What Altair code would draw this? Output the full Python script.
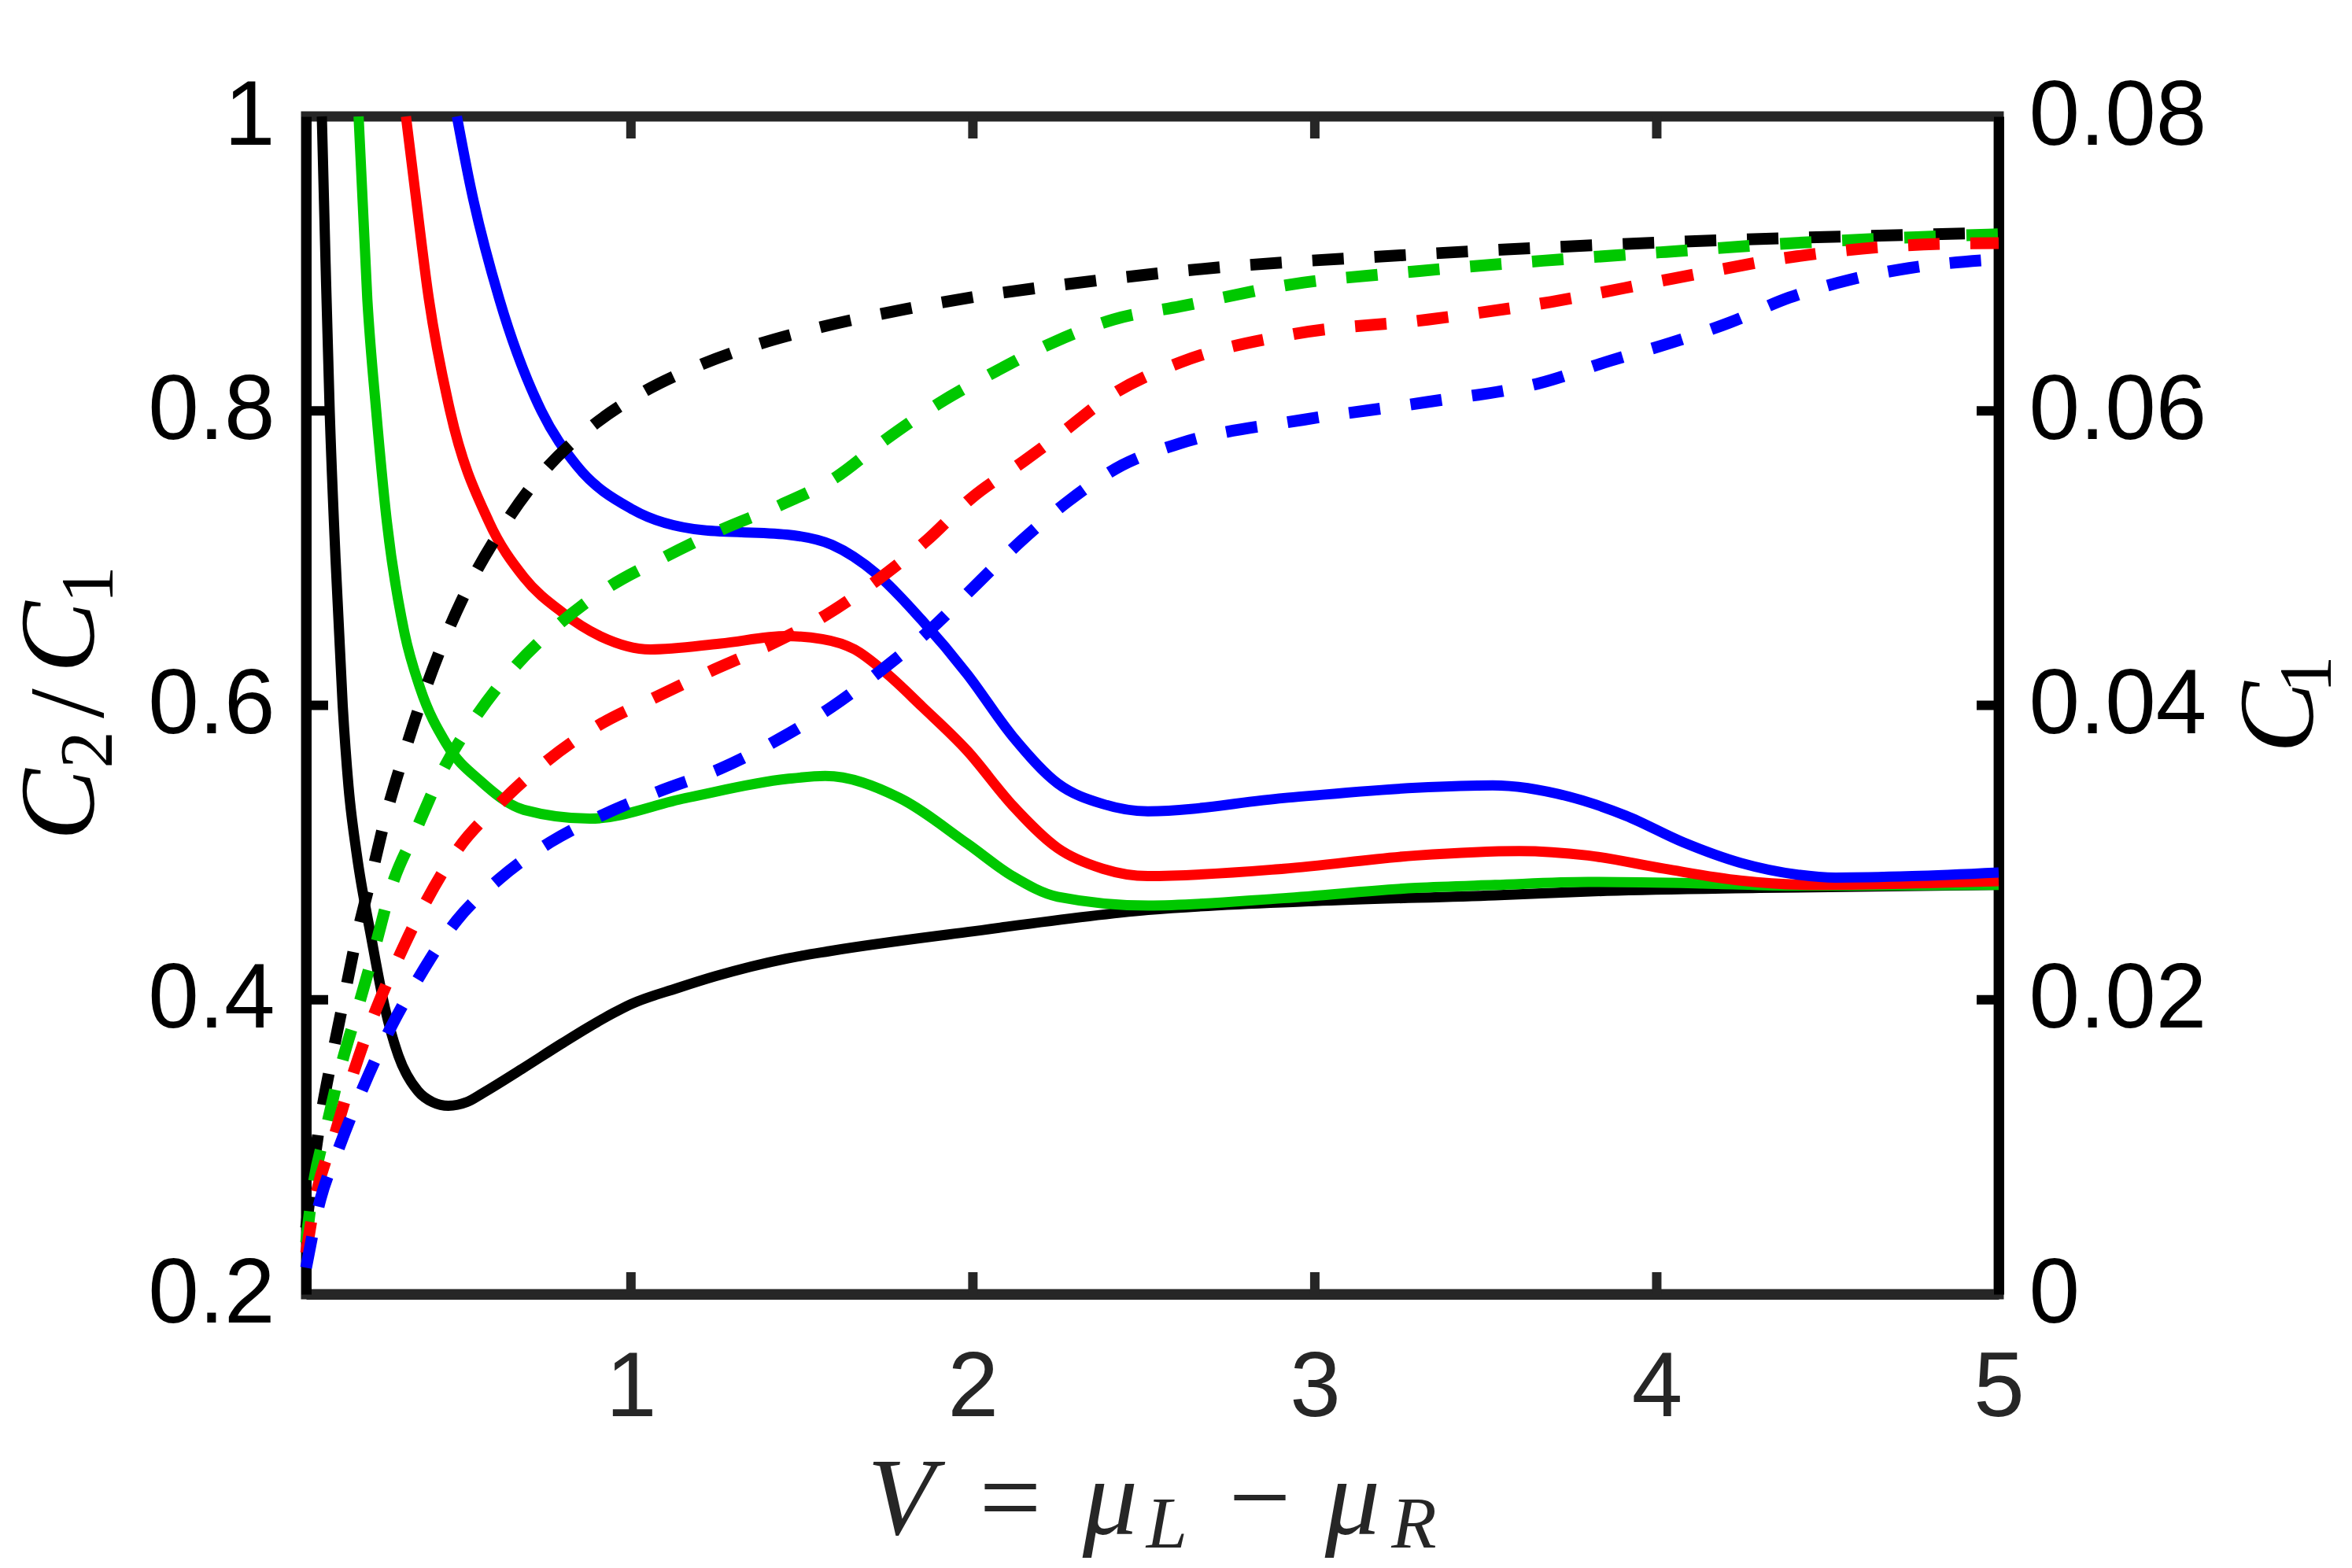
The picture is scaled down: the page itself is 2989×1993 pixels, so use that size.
import altair as alt
import pandas as pd

# ---------------- data ----------------
series_names = ["black", "green", "red", "blue"]
series_colors = ["#000000", "#00c800", "#ff0000", "#0000ff"]

# C2/C1 (left axis), solid lines
black_ratio_x = [0.096, 0.107, 0.119, 0.136, 0.157, 0.174, 0.198, 0.24, 0.28, 0.32, 0.377, 0.42, 0.466,
                 0.52, 0.566, 0.681, 0.796, 0.873, 0.949, 1.0, 1.137, 1.247, 1.456, 1.58, 1.984, 2.512, 3.0,
                 3.527, 3.854, 4.3, 5.0]
black_ratio_y = [1.0, 0.9, 0.8, 0.7, 0.6, 0.545, 0.499, 0.443, 0.395, 0.362, 0.338, 0.3305, 0.328,
                 0.3305, 0.3365, 0.353, 0.370, 0.381, 0.391, 0.397, 0.408, 0.416, 0.428, 0.433, 0.446, 0.461,
                 0.467, 0.471, 0.474, 0.476, 0.478]

green_ratio_x = [0.2035, 0.229, 0.255, 0.286, 0.337, 0.383, 0.46, 0.563, 0.687, 0.88, 1.16, 1.456, 1.568,
                 1.786, 1.984, 2.116, 2.248, 2.513, 2.909, 3.297, 3.527, 3.799, 4.134, 4.41, 5.0]
green_ratio_y = [1.0, 0.876, 0.8, 0.725, 0.65, 0.612, 0.574, 0.548, 0.529, 0.523, 0.537, 0.55, 0.552,
                 0.537, 0.506, 0.484, 0.47, 0.464, 0.469, 0.476, 0.478, 0.48, 0.479, 0.4775, 0.478]

red_ratio_x = [0.342, 0.368, 0.409, 0.471, 0.584, 0.687, 0.80, 0.91, 1.057, 1.262, 1.456, 1.56, 1.654,
               1.746, 1.852, 1.984, 2.116, 2.248, 2.38, 2.512, 2.909, 3.297, 3.598, 3.799, 4.022, 4.245,
               4.468, 5.0]
red_ratio_y = [1.0, 0.951, 0.876, 0.8, 0.725, 0.687, 0.663, 0.647, 0.638, 0.642, 0.647, 0.645, 0.638,
               0.622, 0.599, 0.569, 0.532, 0.503, 0.489, 0.484, 0.489, 0.498, 0.501, 0.498, 0.489, 0.481,
               0.478, 0.4805]

blue_ratio_x = [0.491, 0.532, 0.615, 0.738, 0.841, 1.005, 1.21, 1.456, 1.588, 1.72, 1.85, 1.984, 2.116,
                2.248, 2.38, 2.512, 2.909, 3.297, 3.52, 3.743, 3.91, 4.077, 4.245, 4.412, 4.523, 4.747, 5.0]
blue_ratio_y = [1.0, 0.951, 0.876, 0.8, 0.763, 0.733, 0.719, 0.716, 0.709, 0.689, 0.658, 0.621, 0.579,
                0.547, 0.533, 0.528, 0.537, 0.544, 0.5456, 0.538, 0.525, 0.507, 0.493, 0.485, 0.483, 0.484,
                0.4865]

# C1 (right axis), dashed lines
black_c1_x = [0.05, 0.065, 0.09, 0.125, 0.16, 0.195, 0.24, 0.28, 0.334, 0.39, 0.455, 0.532, 0.625, 0.738,
              0.872, 1.015, 1.18, 1.355, 1.54, 1.8, 2.02, 2.24, 2.607, 3.35, 4.08, 4.81, 5.0]
black_c1_y = [0.0045, 0.0075, 0.0116, 0.0160, 0.0200, 0.0240, 0.0283, 0.0322, 0.0365, 0.0405, 0.0445, 0.0484,
              0.0521, 0.0557, 0.0587, 0.0610, 0.0629, 0.0644, 0.0656, 0.0669, 0.0678, 0.0685, 0.0695, 0.0707,
              0.0715, 0.0720, 0.0721]

green_c1_x = [0.05, 0.07, 0.109, 0.151, 0.201, 0.252, 0.296, 0.373, 0.45, 0.543, 0.656, 0.789, 0.933, 1.093,
              1.262, 1.437, 1.6, 1.73, 1.9, 2.06, 2.24, 2.41, 2.607, 2.934, 3.306, 3.667, 4.027, 4.40, 4.76, 5.0]
green_c1_y = [0.0035, 0.0072, 0.0113, 0.0154, 0.0194, 0.0236, 0.0274, 0.0316, 0.0356, 0.0391, 0.0425, 0.0455,
              0.0480, 0.0500, 0.0519, 0.0536, 0.0555, 0.0578, 0.0605, 0.0626, 0.0647, 0.0662, 0.0671, 0.0686,
              0.0695, 0.0702, 0.0708, 0.0714, 0.0718, 0.0720]

red_c1_x = [0.05, 0.079, 0.132, 0.185, 0.247, 0.319, 0.399, 0.496, 0.615, 0.748, 0.902, 1.067, 1.231, 1.396,
            1.568, 1.72, 1.865, 1.997, 2.15, 2.238, 2.414, 2.607, 2.934, 3.33, 3.69, 4.05, 4.41, 4.78, 5.0]
red_c1_y = [0.0028, 0.0067, 0.0107, 0.0148, 0.0189, 0.0228, 0.0266, 0.0303, 0.0333, 0.0361, 0.0386, 0.0405,
            0.0423, 0.0440, 0.0461, 0.0485, 0.0512, 0.0541, 0.0566, 0.0581, 0.0612, 0.0633, 0.0652, 0.0662,
            0.0674, 0.0690, 0.0705, 0.0713, 0.0714]

blue_c1_x = [0.05, 0.087, 0.147, 0.216, 0.293, 0.382, 0.491, 0.615, 0.764, 0.913, 1.087, 1.262, 1.44, 1.588,
             1.733, 1.878, 2.01, 2.143, 2.281, 2.436, 2.607, 2.967, 3.328, 3.66, 3.863, 4.038, 4.213, 4.388,
             4.563, 4.738, 5.0]
blue_c1_y = [0.0018, 0.0060, 0.0100, 0.0140, 0.0179, 0.0216, 0.0254, 0.0282, 0.0307, 0.0325, 0.0342, 0.0357,
             0.0378, 0.0399, 0.0424, 0.0452, 0.0482, 0.0512, 0.0539, 0.0563, 0.0578, 0.0594, 0.0606, 0.0619,
             0.0634, 0.0646, 0.0660, 0.0677, 0.0689, 0.0697, 0.0703]

x_tick_values = [1, 2, 3, 4, 5]
left_tick_values = [0.2, 0.4, 0.6, 0.8, 1.0]
right_tick_values = [0, 0.02, 0.04, 0.06, 0.08]
inner_x_ticks = [1, 2, 3, 4]
inner_y_ticks = [0.4, 0.6, 0.8]

# axis titles (LaTeX-like, built from pieces so sub-scripts are real sub-scripts)
x_title_parts = ["V", "=", "μ", "L", "−", "μ", "R"]
left_title_parts = ["C", "2", "/", "C", "1"]
right_title_parts = ["C", "1"]

# ---------------- layout / style ----------------
W, H = 2151, 1497
LABEL_FONT = "Liberation Sans"
TITLE_FONT = "Liberation Serif"
LABEL_SIZE = 116
TICK_LEN = 28
FRAME_W = 13
SOLID_W = 13
DASH_W = 15

ratio_x = {"black": black_ratio_x, "green": green_ratio_x, "red": red_ratio_x, "blue": blue_ratio_x}
ratio_y = {"black": black_ratio_y, "green": green_ratio_y, "red": red_ratio_y, "blue": blue_ratio_y}
c1_x = {"black": black_c1_x, "green": green_c1_x, "red": red_c1_x, "blue": blue_c1_x}
c1_y = {"black": black_c1_y, "green": green_c1_y, "red": red_c1_y, "blue": blue_c1_y}

x_enc = alt.X("V:Q",
              scale=alt.Scale(domain=[0.05, 5], nice=False, zero=False),
              axis=alt.Axis(values=x_tick_values, title=None, grid=False, ticks=False, tickSize=0,
                            labelFont=LABEL_FONT, labelFontSize=LABEL_SIZE, labelColor="#262626",
                            labelPadding=62, labelFlush=False, labelOverlap=False, labelLimit=1000,
                            domainColor="#262626", domainWidth=FRAME_W))

y_left = alt.Y("ratio:Q",
               scale=alt.Scale(domain=[0.2, 1.0], nice=False, zero=False),
               axis=alt.Axis(orient="left", values=left_tick_values, format="~g", title=None, grid=False,
                             ticks=False, tickSize=0, labelFont=LABEL_FONT, labelFontSize=LABEL_SIZE,
                             labelColor="#000000", labelPadding=40, labelOverlap=False, labelLimit=1000,
                             domainColor="#000000", domainWidth=FRAME_W))

y_right = alt.Y("C1:Q",
                scale=alt.Scale(domain=[0, 0.08], nice=False, zero=False),
                axis=alt.Axis(orient="right", values=right_tick_values, format="~g", title=None, grid=False,
                              ticks=False, tickSize=0, labelFont=LABEL_FONT, labelFontSize=LABEL_SIZE,
                              labelColor="#000000", labelPadding=38, labelOverlap=False, labelLimit=1000,
                              domainColor="#000000", domainWidth=FRAME_W))

# ---- inward ticks ----
xt = pd.DataFrame({"V": inner_x_ticks})
yt = pd.DataFrame({"ratio": inner_y_ticks})
tick_top = alt.Chart(xt).mark_rule(color="#262626", strokeWidth=12).encode(
    x=x_enc, y=alt.value(0), y2=alt.value(TICK_LEN))
tick_bottom = alt.Chart(xt).mark_rule(color="#262626", strokeWidth=12).encode(
    x=x_enc, y=alt.value(H - TICK_LEN), y2=alt.value(H))
tick_left = alt.Chart(yt).mark_rule(color="#000000", strokeWidth=12).encode(
    y=y_left, x=alt.value(0), x2=alt.value(TICK_LEN))
tick_right = alt.Chart(yt).mark_rule(color="#000000", strokeWidth=12).encode(
    y=y_left, x=alt.value(W - TICK_LEN), x2=alt.value(W))

# ---- solid lines (left axis) ----
solid_layers = []
for name, col in zip(series_names, series_colors):
    df = pd.DataFrame({"V": ratio_x[name], "ratio": ratio_y[name]})
    solid_layers.append(
        alt.Chart(df).mark_line(color=col, strokeWidth=SOLID_W, interpolate="monotone").encode(x=x_enc, y=y_left)
    )

# ---- titles as text ----
def txt(t, x, y, size, style="italic", angle=0, color="#262626"):
    return alt.Chart(pd.DataFrame({"a": [0]})).mark_text(
        text=t, font=TITLE_FONT, fontStyle=style, fontSize=size, align="center",
        baseline="alphabetic" if angle == 0 else "middle", angle=angle, color=color
    ).encode(x=alt.value(x), y=alt.value(y))

x_title_layout = [  # (x, y, size, style) for each piece of the x-axis title
    (756, 1802, 140, "italic"),
    (895, 1802, 140, "normal"),
    (1022, 1802, 140, "italic"),
    (1094, 1819, 94, "italic"),
    (1212, 1802, 140, "normal"),
    (1330, 1802, 140, "italic"),
    (1408, 1819, 94, "italic"),
]
left_title_layout = [  # rotated pieces, (x, y, size, style)
    (-311, 875, 136, "italic"),
    (-276, 805, 95, "normal"),
    (-299, 746, 136, "normal"),
    (-311, 662, 136, "italic"),
    (-275, 595, 95, "normal"),
]
right_title_layout = [
    (2509, 764, 136, "italic"),
    (2544, 709, 95, "normal"),
]

title_layers = [txt(t, x, y, s, st) for t, (x, y, s, st) in zip(x_title_parts, x_title_layout)]
title_layers += [txt(t, x, y, s, st, angle=270, color="#000000")
                 for t, (x, y, s, st) in zip(left_title_parts, left_title_layout)]
title_layers += [txt(t, x, y, s, st, angle=270, color="#000000")
                 for t, (x, y, s, st) in zip(right_title_parts, right_title_layout)]

left_group = alt.layer(tick_top, tick_bottom, tick_left, tick_right, *solid_layers, *title_layers)

# ---- dashed lines (right axis) ----
dashed_layers = []
for name, col in zip(series_names, series_colors):
    df = pd.DataFrame({"V": c1_x[name], "C1": c1_y[name]})
    dashed_layers.append(
        alt.Chart(df).mark_line(color=col, strokeWidth=DASH_W, strokeDash=[40, 39], interpolate="monotone")
        .encode(x=x_enc, y=y_right)
    )
right_group = alt.layer(*dashed_layers)

chart = (
    alt.layer(left_group, right_group)
    .resolve_scale(y="independent")
    .properties(width=W, height=H,
                autosize=alt.AutoSizeParams(type="none"),
                padding={"left": 381, "top": 140, "right": 437, "bottom": 342},
                background="white")
    .configure_view(stroke="#262626", strokeWidth=FRAME_W)
)

chart.save("out.html", embed_options={"renderer": "svg", "actions": False})
